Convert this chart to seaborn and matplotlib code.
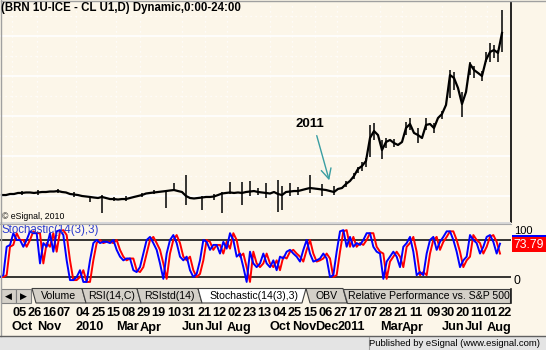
import numpy as np
import matplotlib
matplotlib.use("Agg")
import matplotlib.pyplot as plt
import seaborn as sns
from matplotlib.patches import Polygon, Rectangle
from matplotlib.lines import Line2D

plt.rcParams['font.family'] = ['Liberation Sans', 'DejaVu Sans']

# ---------------- data ----------------
title_text = "(BRN 1U-ICE - CL U1,D) Dynamic,0:00-24:00"

spread_close = [
    0.12, 0.12, 0.25, 0.25, 0.38, 0.38, 0.44, 0.44, 0.38, 0.44,
    0.50, 0.50, 0.56, 0.56, 0.62, 0.50, 0.44, 0.25, 0.19, 0.12,
    0.00, -0.06, -0.12, -0.19, -0.25, -0.12, -0.25, -0.38, -0.38, -0.44,
    -0.38, -0.38, -0.25, -0.12, 0.00, 0.12, 0.31, 0.38, 0.44, 0.50,
    0.56, 0.62, 0.69, 0.75, 0.62, 0.50, 0.00, -0.25, -0.31, -0.25,
    -0.19, -0.12, -0.12, -0.06, 0.12, 0.31, 0.38, 0.44, 0.38, 0.44,
    0.38, 0.50, 0.56, 0.62, 0.50, 0.44, 0.38, 0.31, 0.50, 0.25,
    0.12, 0.50, 0.56, 0.62, 0.62, 0.75, 0.88, 1.00, 0.94, 0.88,
    0.81, 0.75, 0.62, 0.50, 0.88, 1.00, 1.50, 1.88, 2.50, 3.38,
    3.75, 4.38, 7.25, 8.12, 7.62, 5.75, 6.75, 7.00, 6.62, 6.38,
    6.75, 8.50, 9.00, 7.88, 7.62, 7.25, 8.88, 9.00, 8.50, 9.75,
    10.25, 11.38, 15.12, 14.75, 13.50, 11.50, 13.00, 16.50, 15.75, 15.38,
    15.00, 17.00, 18.00, 18.25, 17.88, 20.38,
]

spike_bar = [5, 9, 14, 18, 22, 25, 28, 31, 35, 38, 41, 43, 46, 50, 53, 55, 57, 60, 62,
             64, 66, 69, 70, 72, 74, 77, 80, 83, 86, 88, 89, 90, 91,
             92, 93, 95, 96, 98, 101, 102, 104, 106, 108, 110, 112, 113, 115, 117, 118,
             120, 121, 122, 123, 124, 125]
spike_high = [0.62, 0.75, 0.88, 0.44, 0.00, 0.12, -0.12, 0.00, 0.38, 0.69, 0.75, 1.62,
              2.62, 0.00, 0.25, 0.50, 1.75, 1.75, 1.88,
              1.00, 1.62, 2.00, 1.25, 1.62, 1.12, 2.62, 1.50, 1.25, 1.88, 2.88, 3.62,
              4.25, 4.75,
              8.88, 9.12, 7.00, 7.25, 7.12, 9.25, 9.75, 8.50, 9.75, 9.12, 10.62,
              15.75, 15.50, 13.00, 16.75, 16.25,
              15.62, 18.00, 19.12, 18.88, 18.25, 23.25]
spike_low = [0.12, 0.12, 0.38, -0.12, -0.75, -2.12, -0.62, -0.62, -0.12, 0.19,
             -1.50, 0.62, -1.12, -1.75, -0.50, -2.12, 0.25, -1.12, 0.00,
             0.12, -0.25, -2.00, -1.75, 0.00, 0.12, 0.38, 0.00, 0.12, 1.12, 2.12,
             2.88, 3.12, 3.62,
             4.88, 7.00, 4.62, 6.00, 6.12, 7.62, 8.25, 6.62, 8.25, 7.88, 9.62,
             12.25, 13.25, 9.88, 15.12, 14.75,
             14.38, 16.75, 16.75, 17.25, 16.75, 18.00]

stoch_k = [
    20, 23, 69, 72, 91, 80, 80, 69, 80, 94, 91, 91, 42, 75, 69, 91, 61, 94, 96, 88,
    47, 15, 15, 20, 31, 12, 12, 47, 75, 80, 75, 77, 77, 75, 80, 64, 53, 47, 50, 50,
    31, 28, 36, 58, 80, 85, 75, 64, 42, 17, 58, 80, 88, 75, 53, 47, 53, 31, 20, 25,
    47, 80, 77, 64, 72, 72, 58, 77, 66, 91, 80, 53, 58, 36, 12, 61, 42, 36, 42, 58,
    42, 36,
    47, 31, 53, 50, 61, 64, 58, 53, 45, 64, 80, 58, 45, 47, 50, 58, 50, 20, 23, 61,
    94, 96, 69, 85, 69, 75, 72, 80, 91, 91, 69, 61, 58, 17, 45, 53, 61, 53, 36, 69,
    75, 85, 61, 23, 28, 23, 58, 80, 85, 64, 77, 85, 94, 94, 80, 61, 36, 47, 53, 88,
    80, 75, 58, 69, 85, 88, 77, 58, 74,
]
stoch_d = [
    20, 20, 23, 69, 72, 91, 80, 80, 69, 80, 94, 91, 91, 42, 75, 69, 91, 61, 94, 96,
    88, 47, 15, 15, 20, 31, 12, 12, 47, 75, 80, 75, 77, 77, 75, 80, 64, 53, 47, 50,
    50, 31, 28, 36, 58, 80, 85, 75, 64, 42, 17, 58, 80, 88, 75, 53, 47, 53, 31, 20,
    25, 47, 80, 77, 64, 72, 72, 58, 77, 66, 91, 80, 53, 58, 36, 12, 61, 42, 36, 42,
    58, 42, 36,
    47, 31, 53, 50, 61, 64, 58, 53, 45, 64, 80, 58, 45, 47, 50, 58, 50, 20, 23,
    61, 94, 96, 69, 85, 69, 75, 72, 80, 91, 91, 69, 61, 58, 17, 45, 53, 61, 53, 36,
    69, 75, 85, 61, 23, 28, 23, 58, 80, 85, 64, 77, 85, 94, 94, 80, 61, 36, 47, 53,
    88, 80, 75, 58, 69, 85, 88, 77, 58,
]
stoch_levels = [80, 20]
stoch_last = "73.79"
stoch_title = "Stochastic(14(3),3)"

day_labels_1 = ["05", "26", "16", "07"]
day_labels_2 = ["04", "25", "15", "08", "29", "19", "10", "31", "21", "12", "02", "23",
                "13", "04", "25", "15", "06", "27", "17", "07", "28", "21", "11"]
day_labels_3 = ["09", "30", "20", "11", "01", "22"]
month_labels = ["Oct", "Nov", "2010", "Mar", "Apr", "Jun", "Jul", "Aug",
                "Oct", "Nov", "Dec", "2011", "Mar", "Apr", "Jun", "Jul", "Aug"]
tab_labels = ["Volume", "RSI(14,C)", "RSIstd(14)", "Stochastic(14(3),3)", "OBV",
              "Relative Performance vs. S&P 500"]
footer_text = "Published by eSignal (www.esignal.com)"

# ---------------- layout ----------------
W, H = 546, 350
CREAM = "#FCF6E9"
fig = plt.figure(figsize=(W / 100, H / 100), dpi=100, facecolor=CREAM)


def box(x0, y0, x1, y1):
    return [x0 / W, 1 - y1 / H, (x1 - x0) / W, (y1 - y0) / H]


# day / month positions along the time axis (pixel-like units 0..511)
day_pos = ([20 + 14.5 * k for k in range(len(day_labels_1))]
           + [83 + 15.14 * k for k in range(len(day_labels_2))]
           + [434 + 14.2 * k for k in range(len(day_labels_3))])
day_labels = day_labels_1 + day_labels_2 + day_labels_3
month_pos = [12, 37, 76, 116, 140, 182, 205, 227, 270, 292, 315, 337, 380, 402, 442, 465, 487]

# ---------- main price panel ----------
ax = fig.add_axes(box(0, 2, 511, 222))
ax.set_facecolor(CREAM)
bar_x = 2 + 4 * np.arange(len(spread_close))
ax.set_xlim(0, 511)
ax.set_ylim(-3.25, 24.25)
for v in [0, 5, 10, 15, 20]:
    ax.axhline(v, color="white", lw=1.2, zorder=0)
for v in [2.5, 7.5, 12.5, 17.5, 22.5]:
    ax.axhline(v, color="white", lw=0.9, ls=(0, (1, 3)), zorder=0)
for p in month_pos:
    ax.axvline(p, color="white", lw=0.9, ls=(0, (1, 3)), zorder=0)
sx = [2 + 4 * b for b in spike_bar]
ax.vlines(sx, spike_low, spike_high, color="black", lw=1.1, zorder=2)
sns.lineplot(x=bar_x, y=spread_close, ax=ax, color="black", linewidth=1.6,
             estimator=None, sort=False, zorder=3)
ax.set_xticks([]); ax.set_yticks([])
ax.set_xlabel(""); ax.set_ylabel("")
for s in ["top", "left", "bottom"]:
    ax.spines[s].set_visible(False)
ax.spines["right"].set_color("black")
ax.spines["right"].set_linewidth(1.2)
teal = "#3A9EA2"
ax.annotate("", xy=(330, 1.62), xytext=(316, 7.88),
            arrowprops=dict(arrowstyle="->", color=teal, lw=1.0, mutation_scale=18))
ax.text(310, 9.0, "2011", ha="center", va="center", fontsize=9.5, fontweight="bold")
ax.text(2, -2.6, "© eSignal, 2010", ha="left", va="center", fontsize=6.3)

# ---------- stochastic panel ----------
ax2 = fig.add_axes(box(0, 224, 511, 287))
ax2.set_facecolor(CREAM)
stoch_x = np.arange(len(stoch_k)) * 10 / 3
ax2.set_xlim(0, 511)
ax2.set_ylim(3.8, 105.9)
for lv in stoch_levels:
    ax2.axhline(lv, color="black", lw=1.1, zorder=1)
sns.lineplot(x=stoch_x, y=stoch_d, ax=ax2, color="#FF0000", linewidth=1.4,
             estimator=None, sort=False, zorder=2)
sns.lineplot(x=stoch_x, y=stoch_k, ax=ax2, color="#0000FF", linewidth=1.4,
             estimator=None, sort=False, zorder=3)
ax2.set_xticks([]); ax2.set_yticks([])
ax2.set_xlabel(""); ax2.set_ylabel("")
for s in ax2.spines.values():
    s.set_visible(False)
ax2.text(2, 96, stoch_title, ha="left", va="center", fontsize=8.3,
         color="#2B3BD0", zorder=5)

# ---------- date axis ----------
ax3 = fig.add_axes(box(0, 304, 511, 335))
ax3.set_xlim(0, 511)
ax3.set_ylim(335, 304)
ax3.axis("off")
for p, lab in zip(day_pos, day_labels):
    ax3.text(p, 312.5, lab, ha="center", va="center", fontsize=9.2, fontweight="bold")
for p, lab in zip(month_pos, month_labels):
    ax3.text(p, 327.5, lab, ha="left", va="center", fontsize=9.2, fontweight="bold")

# ---------- UI chrome overlay ----------
ui = fig.add_axes([0, 0, 1, 1])
ui.set_xlim(0, W)
ui.set_ylim(H, 0)
ui.axis("off")
ui.patch.set_alpha(0)
# title
ui.text(1, 8.3, title_text, ha="left", va="center", fontsize=8.3, fontweight="bold")
# outer border
ui.add_line(Line2D([0.5, W], [0.5, 0.5], color="#A0A0A0", lw=1))
ui.add_line(Line2D([0.5, 0.5], [0, 336], color="#A0A0A0", lw=1))
# separator between panels
ui.add_patch(Rectangle((0, 221.5), 511, 2.5, facecolor="#D8D8D8", edgecolor="none"))
ui.add_line(Line2D([0, 511], [223.5, 223.5], color="#A8A8A8", lw=0.8))
# stochastic scale labels
ui.text(514, 230.5, "100", ha="left", va="center", fontsize=8, zorder=1)
ui.add_patch(Rectangle((512, 234.5), 34, 2.2, facecolor="#0000FF", edgecolor="none", zorder=2))
ui.add_patch(Rectangle((512, 237), 34, 14.5, facecolor="#FF0000", edgecolor="none", zorder=2))
ui.text(529, 244.5, stoch_last, ha="center", va="center", fontsize=8.8,
        color="white", zorder=3)
ui.text(513, 281, "0", ha="left", va="center", fontsize=8.8)
# tab strip
GRAY = "#D4D0C8"
for bx, tri in [(1, "◀"), (16, "▶")]:
    ui.add_patch(Rectangle((bx, 288.5), 14.5, 14.5, facecolor=GRAY, edgecolor="#808080", lw=0.8))
    ui.text(bx + 7.3, 296, tri, ha="center", va="center", fontsize=6.5,
            family=["DejaVu Sans"])
tab_edges = [32, 82, 137, 198, 306, 343, 510]
active = 3
order = [i for i in range(len(tab_labels)) if i != active] + [active]
for i in order:
    x0, x1 = tab_edges[i], tab_edges[i + 1]
    if i == active:
        pts = [(x0, 288.5), (x1, 288.5), (x1 - 4, 303), (x0 + 4, 303)]
        fc = "white"
    elif i == len(tab_labels) - 1:
        pts = [(x0, 288.5), (x1, 288.5), (x1, 303), (x0 + 4, 303)]
        fc = GRAY
    else:
        pts = [(x0, 288.5), (x1, 288.5), (x1 + 4, 303), (x0 + 4, 303)]
        fc = GRAY
    ui.add_patch(Polygon(pts, closed=True, facecolor=fc, edgecolor="#404040", lw=0.8))
    ui.text((x0 + x1) / 2 + 2, 296, tab_labels[i], ha="center", va="center", fontsize=7.6)
ui.add_line(Line2D([511, 511], [288.5, 303], color="#202020", lw=1.2))
# footer
ui.add_line(Line2D([0, W], [335.5, 335.5], color="#606060", lw=1))
ui.add_patch(Rectangle((0, 336), W, 14, facecolor="#E4E4E4", edgecolor="none"))
ui.add_line(Line2D([369, 369], [337, 349], color="#A0A0A0", lw=0.8))
ui.text(540, 343, footer_text, ha="right", va="center", fontsize=6.8)

fig.savefig("out.png", dpi=100, facecolor=CREAM)
